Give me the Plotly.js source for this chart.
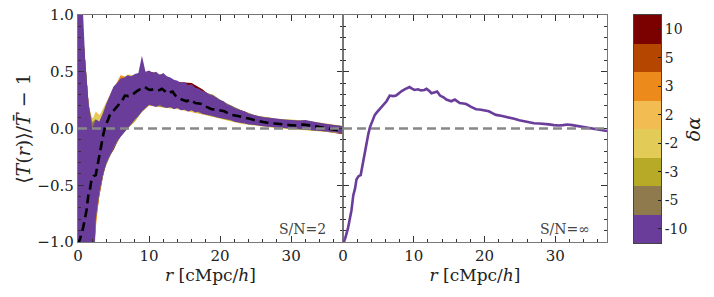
<!DOCTYPE html>
<html><head><meta charset="utf-8">
<script src="https://cdn.plot.ly/plotly-3.0.1.min.js"></script>
<style>html,body{margin:0;padding:0;background:#fff}#plot{width:714px;height:297px}</style>
</head><body><div id="plot"></div>
<script>
// Purple (delta alpha = -10) band, fine grid
const rp = [0,0.5,1,1.5,2,2.5,3,3.5,4,4.5,5,5.5,6,6.5,7,7.5,8,8.5,9,9.5,10,10.5,11,11.5,12,12.5,13,13.5,14,14.5,15,15.5,16,16.5,17,17.5,18,18.5,19,19.5,20,20.5,21,21.5,22,22.5,23,23.5,24,25,26,27,28,29,30,31,32,33,34,35,36,37,37.3];
const pu = [1.5,1.3,0.62,0.22,0.0,0.08,0.06,0.13,0.22,0.30,0.37,0.40,0.44,0.45,0.47,0.46,0.48,0.49,0.64,0.50,0.51,0.49,0.50,0.47,0.49,0.46,0.45,0.43,0.42,0.40,0.41,0.38,0.39,0.36,0.35,0.33,0.32,0.30,0.29,0.27,0.25,0.24,0.21,0.20,0.18,0.17,0.16,0.15,0.13,0.115,0.10,0.095,0.085,0.08,0.075,0.07,0.075,0.06,0.05,0.04,0.03,0.02,0.02];
const pl = [-1.5,-1.5,-1.5,-1.5,-1.5,-0.80,-0.56,-0.41,-0.30,-0.24,-0.17,-0.11,-0.07,-0.03,0.0,0.04,0.08,0.11,0.15,0.18,0.21,0.20,0.19,0.21,0.19,0.18,0.19,0.17,0.18,0.16,0.165,0.15,0.16,0.14,0.15,0.13,0.12,0.115,0.11,0.10,0.095,0.09,0.08,0.075,0.06,0.06,0.05,0.045,0.035,0.03,0.02,0.01,0.008,0.0,0.0,-0.005,-0.01,-0.015,-0.02,-0.025,-0.03,-0.04,-0.04];

// Other bands, coarse grid
const rb = [0,1,1.5,2,2.5,3,3.5,4,5,6,7,8,9,10,12,14,16,17.5,19,21,23,25,28,31,34,37.3];
const u10 = [1.4,0.6,0.2,0.05,0.07,0.05,0.12,0.2,0.35,0.42,0.45,0.46,0.48,0.505,0.47,0.41,0.40,0.345,0.27,0.19,0.15,0.11,0.08,0.065,0.045,0.02];
const l10 = [-1.5,-1.5,-1.5,-1.5,-0.82,-0.6,-0.43,-0.29,-0.19,-0.06,0.01,0.09,0.16,0.21,0.19,0.18,0.16,0.13,0.11,0.08,0.05,0.03,0.008,-0.005,-0.02,-0.05];
const u5 = [1.4,0.6,0.2,0.04,0.07,0.05,0.12,0.2,0.35,0.42,0.45,0.46,0.48,0.49,0.47,0.4,0.37,0.32,0.27,0.19,0.15,0.11,0.08,0.065,0.045,0.02];
const l5 = [-1.5,-1.5,-1.5,-1.5,-0.79,-0.55,-0.4,-0.29,-0.16,-0.06,0.01,0.09,0.16,0.21,0.19,0.18,0.16,0.13,0.11,0.08,0.05,0.03,0.008,-0.005,-0.02,-0.04];
const u3 = [1.4,0.6,0.2,0.05,0.09,0.07,0.13,0.21,0.35,0.47,0.45,0.46,0.48,0.49,0.47,0.4,0.37,0.32,0.27,0.19,0.15,0.11,0.08,0.065,0.045,0.02];
const l3 = [-1.5,-1.5,-1.5,-1.5,-0.88,-0.58,-0.41,-0.3,-0.17,-0.065,0.005,0.085,0.155,0.21,0.19,0.18,0.16,0.13,0.11,0.08,0.05,0.03,0.008,-0.005,-0.02,-0.045];
const u2 = [1.4,0.6,0.21,0.07,0.15,0.12,0.14,0.22,0.36,0.43,0.45,0.46,0.48,0.49,0.47,0.4,0.37,0.32,0.28,0.2,0.155,0.115,0.085,0.072,0.05,0.022];
const l2 = [-1.5,-1.5,-1.5,-1.5,-0.78,-0.55,-0.4,-0.29,-0.16,-0.06,0.01,0.085,0.15,0.2,0.185,0.17,0.145,0.12,0.105,0.078,0.048,0.028,0.006,-0.007,-0.02,-0.04];
const um2 = [1.4,0.6,0.2,0.09,0.12,0.11,0.17,0.23,0.36,0.43,0.475,0.47,0.48,0.49,0.47,0.4,0.37,0.32,0.28,0.2,0.16,0.115,0.085,0.075,0.052,0.022];
const lm2 = [-1.5,-1.5,-1.5,-1.5,-0.78,-0.54,-0.4,-0.29,-0.16,-0.06,0.01,0.085,0.155,0.205,0.185,0.175,0.155,0.125,0.1,0.07,0.04,0.022,0.002,-0.01,-0.022,-0.042];
const um3 = [1.4,0.6,0.2,0.06,0.08,0.06,0.14,0.22,0.35,0.42,0.45,0.46,0.48,0.49,0.47,0.4,0.37,0.32,0.3,0.2,0.15,0.11,0.08,0.065,0.045,0.02];
const lm3 = [-1.5,-1.5,-1.5,-1.5,-0.8,-0.57,-0.42,-0.3,-0.17,-0.07,0.0,0.06,0.145,0.205,0.19,0.18,0.16,0.13,0.105,0.075,0.05,0.03,0.008,-0.005,-0.02,-0.04];
const um5 = [1.4,0.6,0.2,0.05,0.08,0.06,0.12,0.2,0.35,0.42,0.45,0.46,0.48,0.49,0.47,0.4,0.37,0.33,0.29,0.22,0.16,0.115,0.082,0.068,0.048,0.02];
const lm5 = [-1.5,-1.5,-1.5,-1.5,-0.8,-0.56,-0.41,-0.32,-0.175,-0.07,0.005,0.085,0.155,0.21,0.19,0.18,0.16,0.13,0.11,0.08,0.05,0.03,0.008,-0.005,-0.02,-0.04];

// Mean profile
const rm = [0,0.3,0.7,1.0,1.2,1.45,1.7,1.9,2.2,2.5,2.86,3.1,3.3,3.57,3.8,4.0,4.5,4.75,5.2,5.4,5.9,6.15,6.6,7.1,7.5,8.0,8.3,8.7,9.2,9.4,9.8,10.1,10.6,11.0,11.5,11.8,12.2,12.5,13.0,13.3,13.7,14.2,14.6,15.3,15.8,16.1,16.5,17.0,17.4,18.1,18.8,19.3,19.7,20.6,21.1,21.6,22.5,23.5,24.2,24.9,25.6,26.3,27.0,27.7,28.4,29.1,29.8,30.5,31.1,31.7,32.4,33.3,34.0,34.7,35.5,36.2,36.7,37.3];
const mv = [-1.02,-0.97,-0.88,-0.80,-0.72,-0.59,-0.53,-0.45,-0.42,-0.41,-0.28,-0.22,-0.12,-0.05,0.01,0.04,0.12,0.14,0.17,0.19,0.225,0.24,0.29,0.285,0.29,0.32,0.33,0.345,0.36,0.365,0.35,0.34,0.345,0.335,0.34,0.35,0.33,0.31,0.32,0.325,0.29,0.275,0.255,0.24,0.255,0.245,0.225,0.22,0.215,0.19,0.17,0.168,0.165,0.152,0.135,0.12,0.11,0.098,0.085,0.073,0.062,0.052,0.046,0.044,0.042,0.036,0.03,0.026,0.03,0.035,0.03,0.02,0.014,0.006,0.0,-0.01,-0.018,-0.022];

// Colour bar
const bandLabels = ['10','5','3','2','-2','-3','-5','-10'];
const bandColors = ['#7b0000','#b54600','#ec8a1b','#f3bc52','#e3cb58','#b7aa26','#8f7a4d','#6a3d9a'];

function poly(x, up, lo, color) {
  return {x: x.concat(x.slice().reverse()), y: up.concat(lo.slice().reverse()),
    mode: 'lines', fill: 'toself', fillcolor: color, line: {width: 0, color: color},
    hoverinfo: 'skip', xaxis: 'x', yaxis: 'y'};
}
const traces = [
  poly(rb, u10, l10, bandColors[0]),
  poly(rb, u5, l5, bandColors[1]),
  poly(rb, u3, l3, bandColors[2]),
  poly(rb, u2, l2, bandColors[3]),
  poly(rb, um2, lm2, bandColors[4]),
  poly(rb, um3, lm3, bandColors[5]),
  poly(rb, um5, lm5, bandColors[6]),
  poly(rp, pu, pl, bandColors[7]),
  {x: rm, y: mv, mode: 'lines', line: {color: '#000', width: 2.6, dash: '9px,5px'}, xaxis: 'x', yaxis: 'y', hoverinfo: 'skip'},
  {x: rm, y: mv, mode: 'lines', line: {color: bandColors[7], width: 2.6}, xaxis: 'x2', yaxis: 'y2', hoverinfo: 'skip'}
];
const nB = bandLabels.length;
const revLabels = bandLabels.slice().reverse();
const revColors = bandColors.slice().reverse();
const cs = [];
revColors.forEach((c, i) => { cs.push([i / nB, c]); cs.push([(i + 1) / nB, c]); });
traces.push({type: 'heatmap', z: revLabels.map((_, i) => [i]), x: [0], y: revLabels.map((_, i) => i),
  colorscale: cs, zmin: -0.5, zmax: nB - 0.5, showscale: false, xaxis: 'x3', yaxis: 'y3', hoverinfo: 'skip'});

const tickc = '#333', linec = '#777';
const fontF = 'DejaVu Serif';
const xBase = {range: [0, 37.3], tickmode: 'linear', tick0: 0, dtick: 10, ticks: 'inside', ticklen: 6, tickcolor: tickc,
  minor: {dtick: 2, tick0: 0, ticks: 'inside', ticklen: 3, tickcolor: tickc},
  showline: true, linecolor: linec, linewidth: 1.2, mirror: 'allticks', showgrid: false, zeroline: false,
  tickfont: {size: 15, family: fontF}, title: {text: '<i>r</i> [cMpc/<i>h</i>]', font: {size: 17, family: fontF}, standoff: 3}};
const yBase = {range: [-1, 1], tickmode: 'linear', tick0: 0, dtick: 0.5, tickformat: '.1f', ticks: 'inside', ticklen: 6, tickcolor: tickc,
  minor: {dtick: 0.1, tick0: 0, ticks: 'inside', ticklen: 3, tickcolor: tickc},
  showline: true, linecolor: linec, linewidth: 1.2, mirror: 'allticks', showgrid: false, zeroline: false, tickfont: {size: 15, family: fontF}};
const yDom = [1 - 242/297, 1 - 15/297];
const layout = {
  width: 714, height: 297, margin: {l: 0, r: 0, t: 0, b: 0}, showlegend: false,
  paper_bgcolor: '#fff', plot_bgcolor: '#fff',
  font: {family: fontF, size: 15, color: '#222'},
  xaxis: Object.assign({}, xBase, {domain: [78/714, 343/714], anchor: 'y'}),
  xaxis2: Object.assign({}, xBase, {domain: [343/714, 607/714], anchor: 'y2'}),
  yaxis: Object.assign({}, yBase, {domain: yDom, anchor: 'x',
    title: {text: '⟨<i>T</i>(<i>r</i>)⟩/<i>T̄</i> − 1', font: {size: 19, family: fontF}, standoff: 1}}),
  yaxis2: Object.assign({}, yBase, {domain: yDom, anchor: 'x2', matches: 'y', showticklabels: false}),
  xaxis3: {domain: [634/714, 661/714], anchor: 'y3', range: [-0.5, 0.5], showticklabels: false, ticks: '',
    showline: true, mirror: true, linecolor: '#444', linewidth: 1, showgrid: false, zeroline: false},
  yaxis3: {domain: [1 - 243/297, 1 - 15/297], anchor: 'x3', side: 'right', range: [-0.5, nB - 0.5],
    tickmode: 'array', tickvals: revLabels.map((_, i) => i), ticktext: revLabels, ticks: 'inside', ticklen: 3, tickcolor: '#222',
    showline: true, mirror: true, linecolor: '#444', linewidth: 1, showgrid: false, zeroline: false,
    tickfont: {size: 14, family: fontF}, title: {text: '<i>δα</i>', font: {size: 19, family: fontF}, standoff: 0}},
  shapes: [
    {type: 'line', xref: 'x domain', yref: 'y', x0: 0, x1: 1, y0: 0, y1: 0, layer: 'above', line: {color: '#888', width: 2.5, dash: '9px,5px'}},
    {type: 'line', xref: 'x2 domain', yref: 'y2', x0: 0, x1: 1, y0: 0, y1: 0, layer: 'above', line: {color: '#888', width: 2.5, dash: '9px,5px'}}
  ],
  annotations: [
    {text: 'S/N=2', xref: 'x domain', yref: 'y domain', x: 0.945, y: 0.015, xanchor: 'right', yanchor: 'bottom', showarrow: false, font: {size: 14, color: '#444', family: fontF}},
    {text: 'S/N=∞', xref: 'x2 domain', yref: 'y2 domain', x: 0.945, y: 0.015, xanchor: 'right', yanchor: 'bottom', showarrow: false, font: {size: 14, color: '#444', family: fontF}}
  ]
};
Plotly.newPlot('plot', traces, layout, {staticPlot: true, displayModeBar: false});
</script></body></html>
